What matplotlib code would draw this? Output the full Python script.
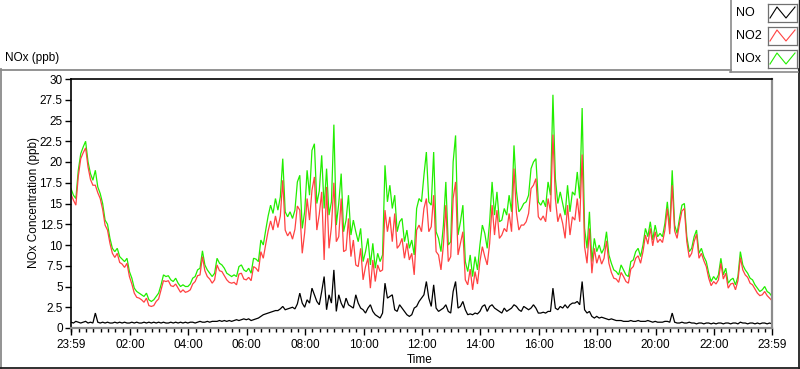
import matplotlib
matplotlib.use("Agg")
import matplotlib.pyplot as plt
import numpy as np
from matplotlib.lines import Line2D
from matplotlib.ticker import FixedLocator

plt.rcParams['font.family'] = ['Liberation Sans', 'DejaVu Sans']

# ---------------- data (5-minute samples starting at 23:59) ----------------
nox = [
    16.8, 16.0, 15.6, 19.0, 21.0, 21.8, 22.5, 20.0, 18.6, 17.8, 19.0, 17.0,
    16.2, 15.0, 13.0, 12.5, 10.8, 9.6, 9.2, 9.6, 8.6, 8.3, 8.0, 8.4,
    6.8, 6.0, 4.8, 4.4, 4.2, 4.0, 3.8, 4.2, 3.4, 3.2, 3.4, 3.8,
    4.2, 5.2, 6.4, 6.2, 6.3, 5.8, 5.6, 6.0, 5.4, 5.0, 5.2, 5.0,
    5.0, 5.3, 6.0, 6.2, 7.0, 7.2, 9.3, 7.6, 7.0, 6.6, 6.2, 6.6,
    8.4, 7.8, 7.6, 7.2, 6.6, 6.4, 6.2, 6.4, 6.2, 7.4, 7.6, 7.0,
    6.8, 7.2, 6.6, 8.4, 8.3, 8.0, 10.6, 10.0, 11.8, 13.5, 14.8, 13.8,
    15.6, 14.2, 15.8, 20.4, 14.0, 13.4, 14.0, 13.2, 14.2, 17.6, 18.4, 12.0,
    14.0, 19.0, 16.0, 21.4, 22.2, 15.0, 16.5, 20.8, 14.4, 19.2, 13.6, 15.2,
    24.5, 12.4, 15.0, 18.6, 11.6, 13.0, 16.0, 11.2, 13.0, 11.6, 10.4, 12.0,
    8.0, 9.2, 10.8, 7.6, 10.2, 7.2, 9.0, 8.0, 8.8, 19.6, 15.2, 17.2,
    14.4, 16.0, 11.6, 12.8, 13.2, 10.4, 11.8, 9.6, 10.6, 8.8, 14.4, 15.6,
    15.2, 18.4, 21.2, 15.2, 14.8, 21.2, 11.6, 10.8, 9.2, 12.4, 17.6, 10.0,
    10.4, 20.0, 23.2, 11.2, 12.8, 14.8, 8.0, 6.8, 8.8, 6.2, 8.6, 7.0,
    10.0, 12.4, 11.4, 9.6, 12.8, 17.6, 13.6, 16.4, 12.8, 13.0, 14.4, 13.6,
    16.0, 14.0, 22.0, 16.5, 14.0, 14.4, 15.0, 15.2, 16.0, 19.2, 20.0, 20.4,
    15.2, 14.8, 15.4, 14.6, 17.6, 16.0, 28.1, 18.0, 15.0, 16.4, 15.0, 13.6,
    17.2, 14.0, 16.4, 16.0, 18.8, 15.6, 26.5, 12.0, 9.6, 14.0, 8.0, 10.8,
    9.2, 10.0, 9.0, 9.6, 11.6, 8.8, 7.8, 7.0, 6.8, 6.4, 7.6, 7.0,
    6.4, 6.2, 8.0, 8.2, 9.2, 9.6, 8.6, 10.0, 12.0, 11.0, 12.8, 10.6,
    12.4, 11.0, 11.4, 11.0, 12.6, 15.2, 12.0, 19.0, 12.4, 11.4, 13.2, 14.8,
    15.0, 11.0, 9.2, 9.6, 11.0, 11.8, 9.0, 9.6, 8.6, 8.0, 6.6, 5.6,
    6.2, 5.8, 6.4, 8.4, 6.4, 7.2, 5.4, 5.8, 6.0, 5.2, 6.2, 9.2,
    7.6, 7.0, 6.6, 6.0, 5.8, 5.2, 4.8, 4.4, 4.6, 5.0, 4.4, 4.2,
    3.8,
]

no2 = [
    16.1, 15.4, 14.8, 18.3, 20.4, 21.1, 21.7, 19.4, 17.9, 17.2, 17.2, 16.3,
    15.6, 14.3, 12.4, 11.8, 10.2, 9.0, 8.5, 9.0, 7.9, 7.7, 7.3, 7.8,
    6.2, 5.3, 4.2, 3.7, 3.6, 3.4, 3.1, 3.6, 2.7, 2.6, 2.7, 3.2,
    3.5, 4.6, 5.7, 5.6, 5.7, 5.1, 5.0, 5.3, 4.8, 4.3, 4.6, 4.3,
    4.4, 4.6, 5.3, 5.6, 6.3, 6.4, 8.6, 6.9, 6.2, 5.9, 5.4, 5.8,
    7.6, 6.9, 6.8, 6.3, 5.8, 5.5, 5.4, 5.5, 5.2, 6.5, 6.6, 5.9,
    5.8, 6.1, 5.7, 7.4, 7.2, 6.8, 9.2, 8.4, 10.1, 11.7, 12.9, 11.8,
    13.5, 12.1, 13.5, 17.8, 11.8, 11.1, 11.6, 10.7, 11.9, 14.7, 14.2, 9.0,
    11.5, 15.6, 13.0, 16.6, 18.2, 11.8, 13.7, 16.4, 8.2, 17.0, 9.6, 12.2,
    17.5, 10.4, 11.0, 15.6, 9.2, 9.4, 13.2, 8.6, 10.6, 7.6, 7.4, 9.6,
    5.8, 7.4, 8.4, 4.8, 8.2, 5.6, 7.6, 6.8, 7.0, 14.2, 11.6, 13.4,
    10.4, 13.8, 9.6, 10.0, 10.8, 8.4, 10.2, 8.2, 9.0, 6.4, 11.8, 12.4,
    11.6, 14.4, 15.6, 11.6, 12.2, 16.0, 9.2, 8.8, 7.0, 10.0, 14.8, 8.0,
    8.6, 15.6, 17.6, 8.8, 10.2, 11.6, 5.8, 5.2, 7.1, 4.6, 6.8, 5.3,
    8.0, 9.8, 8.6, 7.6, 10.2, 14.8, 11.2, 14.2, 10.8, 11.2, 12.0, 11.6,
    13.8, 11.6, 19.2, 13.9, 11.8, 12.4, 12.4, 12.8, 13.8, 16.8, 17.2, 18.0,
    13.4, 13.0, 13.5, 12.8, 15.6, 14.0, 23.3, 15.6, 12.8, 13.8, 12.6, 10.8,
    14.8, 11.2, 13.4, 13.0, 15.6, 12.8, 20.9, 9.8, 7.8, 12.0, 6.6, 9.6,
    7.8, 8.8, 7.7, 8.4, 10.5, 7.8, 6.7, 6.0, 5.9, 5.5, 6.7, 6.2,
    5.6, 5.4, 7.1, 7.4, 8.4, 8.7, 7.8, 9.2, 11.2, 10.1, 12.0, 9.9,
    11.6, 10.3, 10.7, 10.3, 11.8, 14.4, 11.3, 17.2, 11.7, 10.8, 12.6, 14.1,
    14.4, 10.4, 8.5, 9.0, 10.4, 11.3, 8.4, 9.0, 8.1, 7.4, 6.0, 5.1,
    5.6, 5.3, 5.8, 7.8, 5.9, 6.6, 4.8, 5.3, 5.4, 4.6, 5.7, 8.5,
    7.0, 6.4, 6.1, 5.4, 5.2, 4.7, 4.2, 3.9, 4.0, 4.4, 3.9, 3.6,
    3.3,
]

no = [
    0.7, 0.6, 0.8, 0.7, 0.6, 0.7, 0.8, 0.6, 0.7, 0.6, 1.8, 0.7,
    0.6, 0.7, 0.6, 0.7, 0.6, 0.6, 0.7, 0.6, 0.7, 0.6, 0.7, 0.6,
    0.6, 0.7, 0.6, 0.7, 0.6, 0.6, 0.7, 0.6, 0.7, 0.6, 0.7, 0.6,
    0.7, 0.6, 0.7, 0.6, 0.6, 0.7, 0.6, 0.7, 0.6, 0.7, 0.6, 0.7,
    0.6, 0.7, 0.7, 0.6, 0.7, 0.8, 0.7, 0.7, 0.8, 0.7, 0.8, 0.8,
    0.8, 0.9, 0.8, 0.9, 0.8, 0.9, 0.8, 0.9, 1.0, 0.9, 1.0, 1.1,
    1.0, 1.1, 0.9, 1.0, 1.1, 1.2, 1.4, 1.6, 1.7, 1.8, 1.9, 2.0,
    2.1, 2.1, 2.3, 2.6, 2.2, 2.3, 2.4, 2.5, 2.3, 2.9, 4.2, 3.0,
    2.5, 3.4, 3.0, 4.8, 4.0, 3.2, 2.8, 4.4, 6.2, 2.2, 4.0, 3.0,
    7.0, 2.0, 4.0, 3.0, 2.4, 3.6, 2.8, 2.6, 2.4, 4.0, 3.0, 2.4,
    2.2, 1.8, 2.4, 2.8, 2.0, 1.6, 1.4, 1.2, 1.8, 5.4, 3.6, 3.8,
    4.0, 2.2, 2.0, 2.8, 2.4, 2.0, 1.6, 1.4, 1.6, 2.4, 2.6, 3.2,
    3.6, 4.0, 5.6, 3.6, 2.6, 5.2, 2.4, 2.0, 2.2, 2.4, 2.8, 2.0,
    1.8, 4.4, 5.6, 2.4, 2.6, 3.2, 2.2, 1.6, 1.7, 1.6, 1.8, 1.7,
    2.0, 2.6, 2.8, 2.0, 2.6, 2.8, 2.4, 2.2, 2.0, 1.8, 2.4, 2.0,
    2.2, 2.4, 2.8, 2.6, 2.2, 2.0, 2.6, 2.4, 2.2, 2.4, 2.8, 2.4,
    1.8, 1.8, 1.9, 1.8, 2.0, 2.0, 4.8, 2.4, 2.2, 2.6, 2.4, 2.8,
    2.4, 2.8, 3.0, 3.0, 3.2, 2.8, 5.6, 2.2, 1.8, 2.0, 1.4, 1.2,
    1.4, 1.2, 1.3, 1.2, 1.1, 1.0, 1.1, 1.0, 0.9, 0.9, 0.9, 0.8,
    0.8, 0.8, 0.9, 0.8, 0.8, 0.9, 0.8, 0.8, 0.8, 0.9, 0.8, 0.7,
    0.8, 0.7, 0.7, 0.7, 0.8, 0.8, 0.7, 1.8, 0.7, 0.6, 0.6, 0.7,
    0.6, 0.6, 0.7, 0.6, 0.6, 0.5, 0.6, 0.6, 0.5, 0.6, 0.6, 0.5,
    0.6, 0.5, 0.6, 0.6, 0.5, 0.6, 0.6, 0.5, 0.6, 0.6, 0.5, 0.7,
    0.6, 0.6, 0.5, 0.6, 0.6, 0.5, 0.6, 0.5, 0.6, 0.6, 0.5, 0.6,
    0.5,
]

sample_step_min = 5
x_tick_labels = ['23:59', '02:00', '04:00', '06:00', '08:00', '10:00', '12:00',
                 '14:00', '16:00', '18:00', '20:00', '22:00', '23:59']
y_ticks = [0, 2.5, 5, 7.5, 10, 12.5, 15, 17.5, 20, 22.5, 25, 27.5, 30]
series_names = ['NO', 'NO2', 'NOx']

# ---------------- figure ----------------
W, H = 800, 369
fig = plt.figure(figsize=(W / 100, H / 100), dpi=100)
fig.patch.set_facecolor('white')


def fx(px):
    return px / W


def fy(py):
    return 1 - py / H


minutes = np.arange(len(nox)) * sample_step_min

GREEN = '#22ee00'
RED = '#ff4242'
BLACK = '#000000'
FS = 8.5

ax = fig.add_axes([fx(71), fy(328), fx(772) - fx(71), fy(79) - fy(328)])
for series, col in ((nox, GREEN), (no2, RED), (no, BLACK)):
    ax.plot(minutes, series, color=col, lw=0.9, solid_joinstyle='miter')
ax.set_xlim(0, 1440)
ax.set_ylim(0, 30)

# ticks
major_x = [0] + [121 + 120 * k for k in range(11)] + [1440]
minor_x = [1 + 15 * k for k in range(96) if (1 + 15 * k) not in major_x]
ax.xaxis.set_major_locator(FixedLocator(major_x))
ax.xaxis.set_minor_locator(FixedLocator(minor_x))
ax.set_xticklabels(x_tick_labels)
ax.set_yticks(y_ticks)
ax.set_yticklabels(['%g' % v for v in y_ticks])
ax.tick_params(axis='both', which='major', direction='out', length=4, width=1,
               color='black', labelsize=FS, pad=2)
ax.tick_params(axis='x', which='minor', direction='out', length=3, width=1, color='black')
ax.tick_params(axis='x', which='major', length=5, pad=3)

for side in ['top', 'left']:
    ax.spines[side].set_color('black')
    ax.spines[side].set_linewidth(1.2)
for side in ['bottom', 'right']:
    ax.spines[side].set_color('#8c8c8c')
    ax.spines[side].set_linewidth(1.6)

# axis labels placed in pixel coordinates
fig.text(fx(34), fy(203), 'NOx Concentration (ppb)', rotation=90,
         ha='center', va='center', fontsize=FS)
fig.text(fx(420), fy(360), 'Time', ha='center', va='center', fontsize=FS)
fig.text(fx(5), fy(58), 'NOx (ppb)', ha='left', va='center', fontsize=FS)


# outer frame
def hline(y, x0, x1, color, lw=1.0):
    fig.add_artist(Line2D([fx(x0), fx(x1)], [fy(y), fy(y)], color=color, lw=lw,
                          transform=fig.transFigure))


def vline(x, y0, y1, color, lw=1.0):
    fig.add_artist(Line2D([fx(x), fx(x)], [fy(y0), fy(y1)], color=color, lw=lw,
                          transform=fig.transFigure))


hline(69.5, 0, 731, '#8a8a8a', 1.3)
vline(0.7, 69, 369, '#8a8a8a', 1.3)
hline(367.5, 0, 800, '#202020', 1.3)
vline(798.5, 69, 369, '#202020', 1.3)

# legend box
vline(730.7, 0, 72, '#8a8a8a', 1.2)
hline(72.3, 730, 800, '#8a8a8a', 1.2)
vline(799.3, 0, 72, '#202020', 1.0)

legend_colors = [BLACK, RED, GREEN]
legend_y = [13, 36, 59]
for name, col, yc in zip(series_names, legend_colors, legend_y):
    fig.text(fx(736), fy(yc), name, ha='left', va='center', fontsize=FS + 0.5)
    x0, x1, y0, y1 = 768, 797, yc - 9, yc + 9
    hline(y0, x0, x1, '#707070', 0.9)
    hline(y1, x0, x1, '#707070', 0.9)
    vline(x0, y0, y1, '#707070', 0.9)
    vline(x1, y0, y1, '#707070', 0.9)
    zx = [770, 777, 786, 795]
    zy = [yc + 5, yc - 6, yc + 5, yc - 6]
    fig.add_artist(Line2D([fx(v) for v in zx], [fy(v) for v in zy], color=col,
                          lw=0.8, transform=fig.transFigure))

fig.savefig('out.png', dpi=100, facecolor='white')
